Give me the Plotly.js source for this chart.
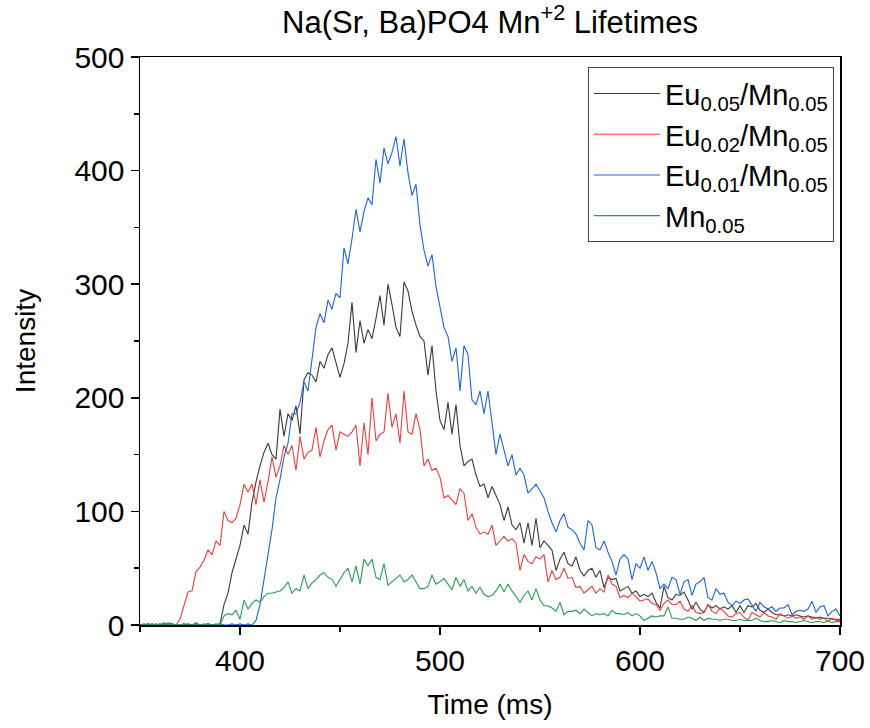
<!DOCTYPE html>
<html>
<head>
<meta charset="utf-8">
<script src="https://cdn.plot.ly/plotly-3.0.1.min.js"></script>
<style>html,body{margin:0;padding:0;background:#fff;}#chart{width:870px;height:728px;}</style>
</head>
<body>
<div id="chart"></div>
<script>
// Sampling of the time axis (ms)
const timeStart = 350;
const timeStep = 2;

const seriesNames = [
  "Eu<sub>0.05</sub>/Mn<sub>0.05</sub>",
  "Eu<sub>0.02</sub>/Mn<sub>0.05</sub>",
  "Eu<sub>0.01</sub>/Mn<sub>0.05</sub>",
  "Mn<sub>0.05</sub>"
];

const eu005 = [
  0,0,0,1,0,0,0,1,0,0, 0,0,1,0,0,0,0,1,0,0, 1,
  18,28,46,57,70,88,80,108,126,140, 152,160,150,146,190,166,186,
  180,193,168,216,222,220,214,232,226,238, 244,232,218,230,248,284,240,268,248,260, 252,270,290,264,300,282,262,254,302,294, 276,264,254,
  250,220,246,206,180,172,196,168,194,158, 140,144,146,132,122,124,112,122,114,106, 92,104,88,84,90,72,90,70,94,68,
  74,70,66,48,58,64,54,52,60,48, 43,48,50,42,48,33,42,40,41,30, 32,34,28,30,25,27,25,28,20,15, 34,24,22,27,26,29,22,
  14,20,14,11,18,15,17,14,16,14, 17,11,17,11,17,16,19,13,11,14, 11,9,9,8,9,8,9,8,7,8, 7,6,7,6,6,5,5,5
];

const eu002 = [
  0,0,1,0,0,0,1,0,0,0,
  5,18,29,30,47,51,57,66,62,74, 70,100,92,90,94,106,124,117,124,106, 128,108,126,148,130,140,158,150,
  158,136,166,146,152,154,174,148,162,172, 176,154,170,168,166,170,176,140,178,150, 200,162,168,170,204,174,186,160,206,170, 168,186,172,
  140,146,136,138,130,112,114,110,106,120, 116,92,98,86,80,82,80,88,70,74, 78,74,76,72,48,62,56,54,60,58,
  62,38,48,40,42,50,41,42,33,34, 28,31,34,28,32,29,44,36,34,24, 26,24,28,25,21,22,23,19,18,13, 19,22,18,18,21,14,12,
  17,11,10,11,18,12,10,15,12,8, 7,10,11,7,4,11,9,7,11,8, 7,5,10,8,6,8,6,7,5,8, 5,7,5,6,3,6,4,4
];

const eu001 = [
  0,0,1,0,0,1,0,2,1,0, 0,1,0,0,1,0,0,1,0,0, 1,0,0,1,0,1,0,1,0,
  4,18,40,62,84,112,128,148,160,
  186,186,196,214,206,232,262,274,266,286, 278,292,288,332,318,340,366,346,364,376, 370,410,389,420,406,416,430,404,428,398, 378,388,352,
  330,316,326,298,280,262,254,232,244,206, 246,238,198,194,206,186,206,180,150,168, 154,140,150,132,138,132,116,120,124,118,
  112,100,90,82,92,98,86,84,80,72, 66,92,88,68,66,74,64,56,44,58, 62,58,40,54,50,60,48,56,46,32, 36,32,42,40,27,38,40,
  26,36,38,42,24,22,32,27,28,20, 17,21,19,22,23,17,12,20,16,14, 16,12,15,15,18,9,12,13,12,14, 21,11,16,17,8,12,14,8
];

const mn005 = [
  0,1,0,0,1,0,2,0,1,0, 0,1,0,0,2,0,1,0,0,1, 0,
  8,10,9,13,5,22,14,19,22,20, 25,28,28,29,30,33,38,
  28,32,30,44,32,37,40,44,46,42, 40,34,40,46,50,38,52,36,58,52, 58,42,40,54,35,38,41,44,38,40, 44,38,32,
  32,34,44,36,38,41,36,31,42,34, 40,30,34,28,33,27,25,26,30,36, 29,36,30,25,20,26,30,22,32,22,
  17,17,15,12,20,9,12,12,13,10, 14,11,8,10,9,10,8,13,10,10, 9,11,8,10,8,4,6,8,7,8, 8,16,6,6,5,5,7,
  6,4,7,4,6,5,5,4,5,5, 4,4,5,4,4,4,6,4,3,3, 4,3,2,4,3,3,2,3,4,3, 2,3,3,2,4,2,3,3
];

const seriesValues = [eu005, eu002, eu001, mn005];
const seriesColors = ["#3a3a3a", "#f23b3b", "#1c64e2", "#2a9d57"];

const xTickVals = [400, 500, 600, 700];
const xMinorVals = [350, 450, 550, 650];
const yTickVals = [0, 100, 200, 300, 400, 500];
const yMinorVals = [50, 150, 250, 350, 450];

function timesFor(arr) {
  const t = [];
  for (let i = 0; i < arr.length; i++) t.push(timeStart + i * timeStep);
  return t;
}

const font = "Liberation Sans, Arial, sans-serif";

const traces = seriesValues.map((vals, k) => ({
  type: "scatter",
  mode: "lines",
  name: seriesNames[k],
  x: timesFor(vals),
  y: vals,
  line: {color: seriesColors[k], width: 1.1}
}));

const layout = {
  width: 870,
  height: 728,
  margin: {l: 140, r: 30, t: 57, b: 103},
  paper_bgcolor: "#fff",
  plot_bgcolor: "#fff",
  font: {family: font, color: "#000"},
  title: {
    text: "Na(Sr, Ba)PO4 Mn<sup>+2</sup> Lifetimes",
    font: {family: font, size: 31, color: "#000"},
    x: 0.5, xanchor: "center", xref: "paper",
    y: 0.97, yanchor: "middle", yref: "container"
  },
  xaxis: {
    range: [350, 700],
    tickvals: xTickVals,
    ticktext: xTickVals.map(String),
    ticks: "outside", ticklen: 8, tickwidth: 1.5, tickcolor: "#000",
    minor: {ticks: "outside", ticklen: 5, tickwidth: 1.5, tickcolor: "#000", tickvals: xMinorVals, showgrid: false},
    showline: true, linewidth: 1.5, linecolor: "#000", mirror: true,
    showgrid: false, zeroline: false,
    tickfont: {family: font, size: 30, color: "#000"},
    title: {text: "Time (ms)", font: {family: font, size: 28, color: "#000"}, standoff: 19}
  },
  yaxis: {
    range: [0, 500],
    tickvals: yTickVals,
    ticktext: yTickVals.map(String),
    ticks: "outside", ticklen: 8, tickwidth: 1.5, tickcolor: "#000",
    minor: {ticks: "outside", ticklen: 5, tickwidth: 1.5, tickcolor: "#000", tickvals: yMinorVals, showgrid: false},
    showline: true, linewidth: 1.5, linecolor: "#000", mirror: true,
    showgrid: false, zeroline: false,
    tickfont: {family: font, size: 30, color: "#000"},
    title: {text: "Intensity", font: {family: font, size: 28, color: "#000"}, standoff: 30}
  },
  showlegend: true,
  legend: {
    x: 0.64, xanchor: "left", xref: "paper",
    y: 0.982, yanchor: "top", yref: "paper",
    bgcolor: "#fff",
    bordercolor: "#444", borderwidth: 1,
    font: {family: font, size: 29, color: "#000"},
    itemwidth: 66,
    tracegroupgap: 0
  }
};

Plotly.newPlot("chart", traces, layout, {displayModeBar: false, staticPlot: true});
</script>
</body>
</html>
